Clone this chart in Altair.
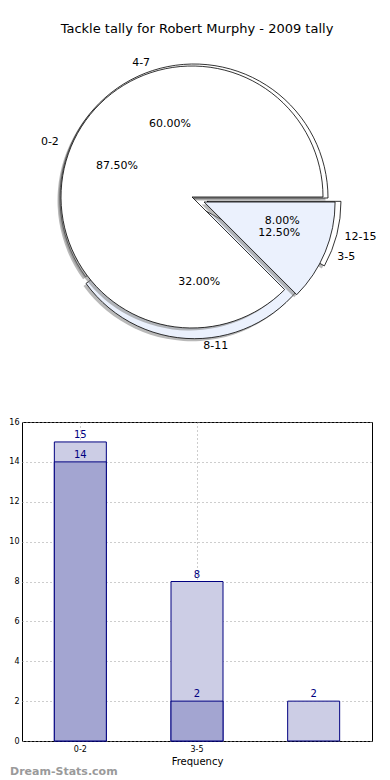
import json
import math

import altair as alt
import pandas as pd

# ---------------- data ----------------
TITLE = "Tackle tally for Robert Murphy - 2009 tally"

pie_a_labels = ["0-2", "3-5"]
pie_a_values = [14, 2]
pie_b_labels = ["4-7", "8-11", "12-15"]
pie_b_values = [15, 8, 2]

bar_slots = [0, 1, 2]
bar_tick_labels = ["0-2", "3-5", ""]
bar_tick_slots = [0, 1]
bar_back_values = [15, 8, 2]
bar_front_values = [14, 2, 0]

y_ticks = [0, 2, 4, 6, 8, 10, 12, 14, 16]

# ---------------- styles ----------------
pie_a_explode = [0.0, 0.1]
pie_b_explode = [0.0, 0.05, 0.1]
slice_colors = ["#ffffff", "#ebf1fd"]
FONT = "DejaVu Sans"
NAVY = "#000080"
BACK_FILL = "#cccde5"
FRONT_FILL = "#a3a5d1"

PIE_W, PIE_H = 350, 345
BAR_W, BAR_H = 350, 319


def pie_frame(name, labels, values, explode):
    return pd.DataFrame({
        "pie": name,
        "idx": list(range(len(labels))),
        "label": labels,
        "value": values,
        "explode": explode,
    })


TSCALE = alt.Scale(domain=[0, 1], range=[math.pi / 2, math.pi / 2 - 2 * math.pi])


def pie_base(df, R, cx0, cy0):
    return alt.Chart(df).transform_joinaggregate(
        total="sum(value)"
    ).transform_window(
        cum="sum(value)", sort=[alt.SortField("idx")], frame=[None, 0]
    ).transform_calculate(
        start="(datum.cum - datum.value) / datum.total",
        end="datum.cum / datum.total",
    ).transform_calculate(
        mid="(datum.start + datum.end) / 2",
        colorIdx="datum.idx % 2",
        pct="format(datum.value / datum.total * 100, '.2f') + '%'",
    ).transform_calculate(
        ang="2 * PI * datum.mid",
    ).transform_calculate(
        cx=f"{cx0} + datum.explode * {R} * cos(datum.ang)",
        cy=f"{cy0} - datum.explode * {R} * sin(datum.ang)",
        side="cos(datum.ang) > 0 ? 'left' : 'right'",
    ).transform_calculate(
        sx="datum.cx - 2.5",
        sy="datum.cy + 2.5",
    )


def pie_arcs(base, R):
    shadow = base.mark_arc(radius=R, fill="#7f7f7f", opacity=0.55).encode(
        theta=alt.Theta("start:Q", scale=TSCALE),
        theta2="end:Q",
        x=alt.X("sx:Q", scale=None, axis=None),
        y=alt.Y("sy:Q", scale=None, axis=None),
    )
    arcs = base.mark_arc(radius=R, stroke="black", strokeWidth=0.8).encode(
        theta=alt.Theta("start:Q", scale=TSCALE),
        theta2="end:Q",
        x=alt.X("cx:Q", scale=None, axis=None),
        y=alt.Y("cy:Q", scale=None, axis=None),
        color=alt.Color("colorIdx:N", scale=alt.Scale(domain=[0, 1], range=slice_colors), legend=None),
    )
    return [shadow, arcs]


def pie_texts(base, R, label_factor, pct_factor):
    layers = []
    for side in ["left", "right"]:
        layers.append(
            base.transform_filter(f"datum.side == '{side}'").mark_text(
                radius=R * label_factor, align=side, baseline="middle", fontSize=11, font=FONT, color="black"
            ).encode(
                theta=alt.Theta("mid:Q", scale=TSCALE),
                x=alt.X("cx:Q", scale=None, axis=None),
                y=alt.Y("cy:Q", scale=None, axis=None),
                text="label:N",
            )
        )
    layers.append(
        base.mark_text(radius=R * pct_factor, align="center", baseline="middle", fontSize=11, font=FONT, color="black").encode(
            theta=alt.Theta("mid:Q", scale=TSCALE),
            x=alt.X("cx:Q", scale=None, axis=None),
            y=alt.Y("cy:Q", scale=None, axis=None),
            text="pct:N",
        )
    )
    return layers


df_a = pie_frame("A", pie_a_labels, pie_a_values, pie_a_explode)
df_b = pie_frame("B", pie_b_labels, pie_b_values, pie_b_explode)

CX, CY = 170, 151
RA, RB = 131, 134
base_b = pie_base(df_b, RB, CX + 2, CY + 1)
base_a = pie_base(df_a, RA, CX, CY)

pie = alt.layer(
    *pie_arcs(base_b, RB),
    *pie_arcs(base_a, RA),
    *pie_texts(base_b, RB, 1.06, 0.58),
    *pie_texts(base_a, RA, 1.1, 0.62),
).properties(
    width=PIE_W,
    height=PIE_H,
    view=alt.ViewBackground(stroke="transparent"),
    title=alt.TitleParams(TITLE, fontSize=13, font=FONT, fontWeight="normal", color="black", anchor="middle", offset=10),
)

# ---------------- bar chart ----------------
df_bar = pd.DataFrame({"slot": bar_slots, "back": bar_back_values, "front": bar_front_values})
label_expr = json.dumps(bar_tick_labels) + "[datum.value]"

grid_kw = dict(grid=True, gridDash=[1, 3], gridColor="#9a9a9a", gridWidth=1)
xenc = alt.X(
    "slot:O",
    scale=alt.Scale(paddingInner=0, paddingOuter=0),
    axis=alt.Axis(
        values=bar_tick_slots, labelExpr=label_expr, labelAngle=0, title="Frequency", bandPosition=0.5,
        ticks=False, domain=False, labelFontSize=8, labelFont=FONT, labelColor="black",
        labelPadding=4, titleFont=FONT, titleFontSize=10, titleFontWeight="normal",
        titleColor="black", titlePadding=3, **grid_kw,
    ),
)
yscale = alt.Scale(domain=[0, 16], nice=False)
yaxis = alt.Axis(
    values=y_ticks, title=None, ticks=False, domain=False, labelFontSize=8,
    labelFont=FONT, labelColor="black", labelPadding=3, **grid_kw,
)

bbase = alt.Chart(df_bar)
back_bars = bbase.mark_bar(size=52, fill=BACK_FILL, stroke=NAVY, strokeWidth=1).encode(
    x=xenc, y=alt.Y("back:Q", scale=yscale, axis=yaxis)
)
front_bars = bbase.transform_filter("datum.front > 0").mark_bar(
    size=52, fill=FRONT_FILL, stroke=NAVY, strokeWidth=1
).encode(x=xenc, y=alt.Y("front:Q", scale=yscale, axis=yaxis))
back_text = bbase.mark_text(baseline="bottom", dy=-2, fontSize=10, font=FONT, color=NAVY).encode(
    x=xenc, y=alt.Y("back:Q", scale=yscale, axis=yaxis), text="back:Q"
)
front_text = bbase.transform_filter("datum.front > 0").mark_text(
    baseline="bottom", dy=-2, fontSize=10, font=FONT, color=NAVY
).encode(x=xenc, y=alt.Y("front:Q", scale=yscale, axis=yaxis), text="front:Q")
watermark = bbase.transform_filter("datum.slot == 0").mark_text(
    align="left", baseline="middle", fontSize=11, font=FONT, fontWeight="bold", color="#9a9a9a"
).encode(x=alt.value(-12), y=alt.value(BAR_H + 31), text=alt.value("Dream-Stats.com"))

bars = alt.layer(back_bars, front_bars, back_text, front_text, watermark).properties(
    width=BAR_W, height=BAR_H,
    view=alt.ViewBackground(stroke="black", strokeWidth=1),
)

chart = alt.vconcat(
    pie, bars, spacing=25,
    padding={"left": 0, "top": 14, "right": 0, "bottom": 0},
    background="white",
)

chart.save("out.html", embed_options={"renderer": "svg", "actions": False})
